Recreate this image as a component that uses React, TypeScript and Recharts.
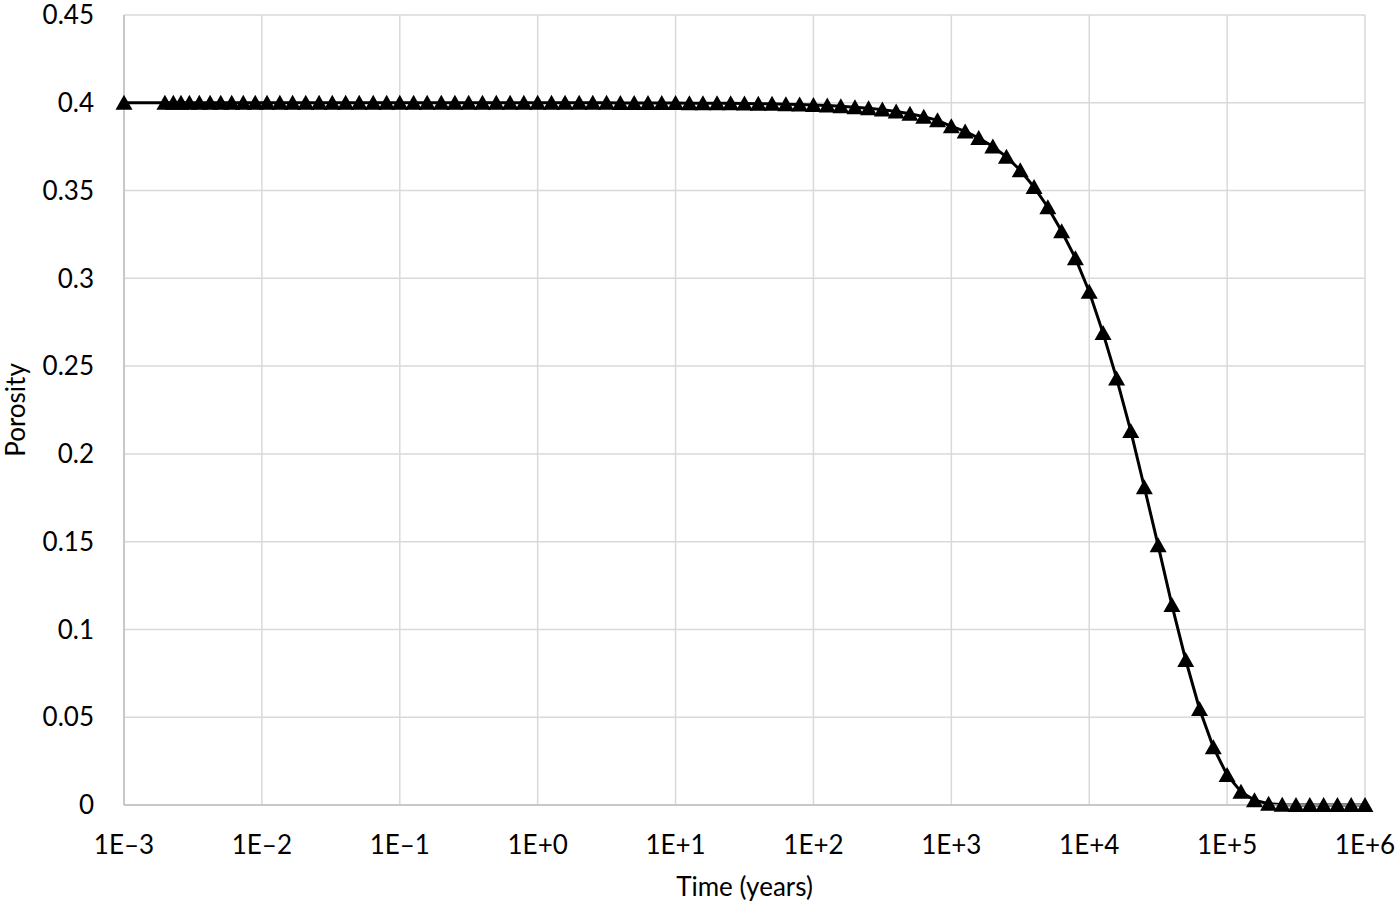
import React from 'react';
import { LineChart, Line, XAxis, YAxis, CartesianGrid } from 'recharts';

// time in years (log axis)
const times = [
  0.001, 0.00198, 0.00228, 0.00259, 0.00298, 0.00352, 0.00421, 0.00503, 0.00604, 0.00733,
  0.00895, 0.0109, 0.0135, 0.0167, 0.0208, 0.026, 0.0324, 0.0405, 0.0508, 0.0642, 0.0803,
  0.1, 0.126, 0.158, 0.2, 0.251, 0.316, 0.398, 0.501, 0.631, 0.794,
  1, 1.26, 1.58, 2, 2.51, 3.16, 3.98, 5.01, 6.31, 7.94,
  10, 12.6, 15.8, 20, 25.1, 31.6, 39.8, 50.1, 63.1, 79.4,
  100, 126, 158, 200, 251, 316, 398, 501, 631, 794,
  1000, 1260, 1580, 2000, 2510, 3160, 3980, 5010, 6310, 7940,
  10000, 12600, 15800, 20000, 25100, 31600, 39800, 50100, 63100, 79400,
  100000, 126000, 158000, 200000, 251000, 316000, 398000, 501000, 631000, 794000,
  1000000,
];

const porosity = [
  0.4, 0.4, 0.4, 0.4, 0.4, 0.4, 0.4, 0.4, 0.4, 0.4,
  0.4, 0.4, 0.4, 0.4, 0.4, 0.4, 0.4, 0.4, 0.4, 0.4, 0.4,
  0.4, 0.4, 0.4, 0.4, 0.4, 0.4, 0.4, 0.4, 0.4, 0.4,
  0.4, 0.4, 0.4, 0.4, 0.4, 0.4, 0.3999, 0.3999, 0.3999, 0.3999,
  0.3999, 0.3998, 0.3998, 0.3997, 0.3997, 0.3996, 0.3995, 0.3994, 0.3992, 0.399,
  0.3987, 0.3984, 0.398, 0.3975, 0.3969, 0.3961, 0.395, 0.3937, 0.3921, 0.39,
  0.3866, 0.3837, 0.3799, 0.3751, 0.3692, 0.3616, 0.352, 0.3405, 0.3268, 0.3115,
  0.2924, 0.2688, 0.243, 0.2131, 0.181, 0.1479, 0.1139, 0.0826, 0.0547, 0.0329,
  0.0171, 0.0076, 0.0027, 0.0007, 0.0002, 0, 0, 0, 0, 0,
  0,
];

const xTicks = [1e-3, 1e-2, 1e-1, 1, 10, 100, 1e3, 1e4, 1e5, 1e6];
const xTickLabels = ['1E\u20133', '1E\u20132', '1E\u20131', '1E+0', '1E+1', '1E+2', '1E+3', '1E+4', '1E+5', '1E+6'];
const yTicks = [0, 0.05, 0.1, 0.15, 0.2, 0.25, 0.3, 0.35, 0.4, 0.45];

const data = times.map((t, i) => ({ time: t, porosity: porosity[i] }));

const FONT = 'Lato, "Open Sans", sans-serif';
const FS = 26;

const formatX = (v: number) => {
  const i = xTicks.findIndex((t) => Math.abs(Math.log10(t) - Math.log10(v)) < 1e-6);
  return i >= 0 ? xTickLabels[i] : String(v);
};

const Triangle = (props: any) => {
  const { cx, cy, index } = props;
  if (cx == null || cy == null) return <g key={index} />;
  return (
    <polygon
      key={index}
      points={`${cx},${cy - 8} ${cx - 8.5},${cy + 7} ${cx + 8.5},${cy + 7}`}
      fill="#000"
    />
  );
};

export default function App() {
  return (
    <div style={{ position: 'absolute', left: 0, top: 0, background: '#fff' }}>
      <LineChart
        width={1400}
        height={910}
        data={data}
        margin={{ top: 15, right: 35, left: 0, bottom: 0 }}
      >
        <CartesianGrid stroke="#d9d9d9" strokeWidth={1.5} />
        <XAxis
          dataKey="time"
          type="number"
          scale="log"
          domain={[1e-3, 1e6]}
          ticks={xTicks}
          tickFormatter={formatX}
          height={105}
          tickSize={0}
          tickMargin={31}
          axisLine={{ stroke: '#bfbfbf', strokeWidth: 1.5 }}
          tick={{ fill: '#000', fontSize: FS, fontFamily: FONT }}
          label={{
            content: (p: any) => {
              const vb = p.viewBox;
              return (
                <text
                  x={vb.x + vb.width / 2}
                  y={vb.y + 91}
                  textAnchor="middle"
                  fill="#000"
                  fontSize={FS}
                  fontFamily={FONT}
                >
                  Time (years)
                </text>
              );
            },
          }}
        />
        <YAxis
          type="number"
          domain={[0, 0.45]}
          ticks={yTicks}
          width={124}
          tickSize={0}
          tickMargin={30}
          axisLine={{ stroke: '#bfbfbf', strokeWidth: 1.5 }}
          tick={{ fill: '#000', fontSize: FS, fontFamily: FONT }}
          label={{
            content: (p: any) => {
              const vb = p.viewBox;
              const x = vb.x + 25;
              const y = vb.y + vb.height / 2;
              return (
                <text
                  x={x}
                  y={y}
                  transform={`rotate(-90 ${x} ${y})`}
                  textAnchor="middle"
                  fill="#000"
                  fontSize={FS}
                  fontFamily={FONT}
                >
                  Porosity
                </text>
              );
            },
          }}
        />
        <Line
          dataKey="porosity"
          type="linear"
          stroke="#000"
          strokeWidth={3}
          dot={Triangle}
          activeDot={false}
          isAnimationActive={false}
        />
      </LineChart>
    </div>
  );
}
